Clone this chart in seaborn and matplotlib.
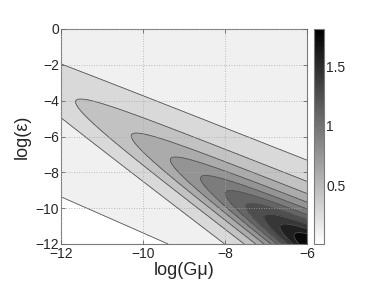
import numpy as np
import matplotlib
matplotlib.use("Agg")
import matplotlib.pyplot as plt
import seaborn as sns
from matplotlib.colors import Normalize

# axes ranges and ticks
gmu_range = [-12, -6]
eps_range = [-12, 0]
gmu_ticks = [-12, -10, -8, -6]
eps_ticks = [-12, -10, -8, -6, -4, -2, 0]
cbar_ticks = [0.5, 1, 1.5]

# colour scale limits and number of contour levels
z_limits = [0.01, 1.81]
n_levels = 11

# ridge: slope of the upper branches, slope of the line of tips
branch_slopes = [-0.9, -1.4]
# log10 offset, decay above the ridge, bend height, bend width, tip line intercept
ridge_coefs = [-4.25, 0.267, 0.325, 0.5, -20.55]
# lowest contour (bottom left): intercept, slope, and the plateau value above it
floor_line = [-21.43, -1.0]
floor_value = 0.17


def build_field():
    gmu = np.linspace(gmu_range[0], gmu_range[1], 361)
    eps = np.linspace(eps_range[0], eps_range[1], 721)
    X, Y = np.meshgrid(gmu, eps)
    c0, decay, bend, width, q0 = ridge_coefs
    p = Y - branch_slopes[0] * X
    q = Y - branch_slopes[1] * X
    g = -np.logaddexp(0, -(q - q0) / width)
    ridge = 10 ** (c0 - decay * p + bend * g)
    r = Y - (floor_line[0] + floor_line[1] * X)
    plateau = floor_value * 0.5 * (1 + np.tanh(r / 0.05))
    return X, Y, ridge + plateau


X, Y, Z = build_field()

sns.set_style("ticks", {"xtick.direction": "in", "ytick.direction": "in"})
plt.rcParams["font.family"] = ["Liberation Sans", "DejaVu Sans"]

fig = plt.figure(figsize=(3.74, 2.89), dpi=100)
ax = fig.add_axes([61 / 374, 45 / 289, 246 / 374, 215 / 289])
cax = fig.add_axes([314 / 374, 45 / 289, 10 / 374, 215 / 289])

cmap = sns.color_palette("gray_r", as_cmap=True)
norm = Normalize(vmin=z_limits[0], vmax=z_limits[1])

levels = np.linspace(z_limits[0], z_limits[1], n_levels + 2)[1:-1]
bands = np.concatenate([[min(Z.min(), z_limits[0]) - 1e-6], levels, [Z.max() + 1e-6]])
# each band painted with the grey of its lower level, the lowest band left white
band_norm = Normalize(vmin=levels[0] - 0.1, vmax=levels[-1] + 0.06)
band_colors = ["white"] + [cmap(band_norm(b)) for b in levels]

ax.contourf(X, Y, Z, levels=bands, colors=band_colors)
ax.contour(X, Y, Z, levels=levels, colors="#555555", linewidths=0.6)

ax.set_xlim(gmu_range)
ax.set_ylim(eps_range)
ax.set_xticks(gmu_ticks)
ax.set_yticks(eps_ticks)
ax.grid(True, linestyle=(0, (1, 2)), color="#a8a8a8", linewidth=0.6)
ax.set_axisbelow(False)
ax.tick_params(axis="both", which="both", direction="in", length=3, width=0.6,
               color="#666666", labelsize=10, top=True, right=True)
ax.tick_params(axis="x", pad=2)
ax.tick_params(axis="y", pad=1.5)
for s in ax.spines.values():
    s.set_color("#7a7a7a")
    s.set_linewidth(0.8)

ax.set_xlabel("log(Gμ)", fontsize=13, labelpad=1)
ax.set_ylabel("log(ε)", fontsize=13, labelpad=3)

sm = plt.cm.ScalarMappable(norm=norm, cmap=cmap)
cb = fig.colorbar(sm, cax=cax)
cb.set_ticks(cbar_ticks)
cb.set_ticklabels(["0.5", "1", "1.5"])
cb.outline.set_edgecolor("#7a7a7a")
cb.outline.set_linewidth(0.8)
cax.tick_params(direction="in", length=2, width=0.6, color="#666666",
                labelsize=10, pad=1.5, left=True, right=True)

fig.savefig("out.png", dpi=100)
